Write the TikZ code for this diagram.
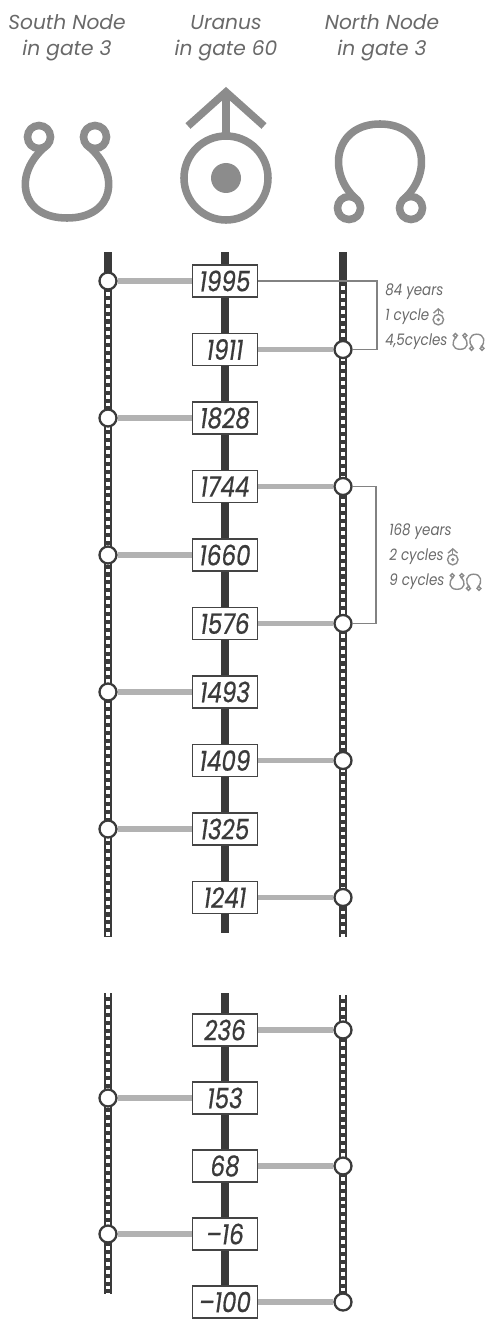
\documentclass[tikz,border=0pt]{standalone}
\usepackage{fontspec}
\setmainfont{Poppins}
\newfontfamily\yearfont{Poppins}[FakeStretch=0.82,FakeBold=0.6]
\newfontfamily\notefont{Poppins}[FakeStretch=0.85]
\usetikzlibrary{positioning,calc}

\definecolor{railgray}{RGB}{58,58,58}
\definecolor{linkgray}{RGB}{178,178,178}
\definecolor{glyphgray}{RGB}{140,140,140}
\definecolor{headgray}{RGB}{105,105,105}
\definecolor{boxgray}{RGB}{68,68,68}
\definecolor{bracketgray}{RGB}{130,130,130}

\tikzset{
  head/.style={align=center, text=headgray, font=\fontsize{11.5}{15}\selectfont\itshape},
  glyph/.style={draw=glyphgray, fill=glyphgray, line width=4.3pt},
  tinyglyph/.style={draw=glyphgray, fill=glyphgray, line width=0.8pt},
  rail/.style={line width=4.8pt, draw=railgray},
  raildots/.style={line width=2.3pt, draw=white, dash pattern=on 2.2pt off 2.3pt},
  yearbox/.style={draw=boxgray, line width=1.1pt, fill=white, text=railgray,
    minimum width=1.3cm, minimum height=0.64cm, inner sep=0pt,
    font=\yearfont\fontsize{16}{16}\selectfont\itshape},
  hit/.style={circle, draw=railgray, line width=1.3pt, fill=white,
    minimum size=0.34cm, inner sep=0pt},
  link/.style={line width=3.4pt, draw=linkgray},
  bracket/.style={line width=0.7pt, draw=bracketgray},
  note/.style={anchor=west, inner sep=0pt, text=headgray,
    font=\notefont\fontsize{9}{9}\selectfont\itshape},
  % astrological signs, drawn about their centre
  southnode/.pic={
    \draw[fill=none] (-28,-38) circle[radius=11.5];
    \draw[fill=none] (28,-38) circle[radius=11.5];
    \draw[fill=none] (-21,-29) .. controls (-54,-2) and (-48,43) .. (0,43)
      .. controls (48,43) and (54,-2) .. (21,-29);
  },
  northnode/.pic={
    \draw[fill=none] (-31,38) circle[radius=11.5];
    \draw[fill=none] (31,38) circle[radius=11.5];
    \draw[fill=none] (-24,29) .. controls (-54,2) and (-45,-46) .. (0,-46)
      .. controls (45,-46) and (54,2) .. (24,29);
  },
  uranussym/.pic={
    \draw[fill=none] (0,0) circle[radius=42];
    \fill (0,0) circle[radius=15];
    \draw (0,-42) -- (0,-85);
    \draw[fill=none, line join=miter] (-38,-52) -- (0,-86) -- (38,-52);
  }
}

\begin{document}
\begin{tikzpicture}[x=0.02cm, y=-0.02cm]
\useasboundingbox (0,0) rectangle (497,1321);

% headings and signs
\node[head] (hsouth) at (67,38) {South Node\\in gate 3};
\node[head] (huranus) at (226,38) {Uranus\\in gate 60};
\node[head] (hnorth) at (382,38) {North Node\\in gate 3};
\pic[glyph] at (67,175) {southnode};
\pic[glyph] at (226,178) {uranussym};
\pic[glyph] at (380,170) {northnode};

% rails, upper part
\coordinate (sTop) at (108,252);
\coordinate (sDot) at (108,284);
\coordinate (sEnd) at (108,937);
\coordinate (uTop) at (225,252);
\coordinate (uEnd) at (225,933);
\coordinate (nTop) at (343,252);
\coordinate (nDot) at (343,286);
\coordinate (nEnd) at (343,937);
\draw[rail] (uTop) -- (uEnd);
\draw[rail] (sTop) -- (sEnd);
\draw[raildots] (sDot) -- (sEnd);
\draw[rail] (nTop) -- (nEnd);
\draw[raildots] (nDot) -- (nEnd);

% rails, lower part
\coordinate (sTopB) at (108,993);
\coordinate (sEndB) at (108,1294);
\coordinate (uTopB) at (225,993);
\coordinate (uEndB) at (225,1302);
\coordinate (nTopB) at (343,995);
\coordinate (nEndB) at (343,1302);
\draw[rail] (uTopB) -- (uEndB);
\draw[rail] (sTopB) -- (sEndB);
\draw[raildots] (sTopB) -- (sEndB);
\draw[rail] (nTopB) -- (nEndB);
\draw[raildots] (nTopB) -- (nEndB);

% Uranus returns, upper part
\foreach \yr/\cx [count=\i from 0] in {1995/108,1911/343,1828/108,1744/343,1660/108,
    1576/343,1493/108,1409/343,1325/108,1241/343}{
  \node[yearbox] (y\yr) at (225,{281+68.5*\i}) {\yr};
  \node[hit] (c\yr) at (\cx,{281+68.5*\i}) {};
  \draw[link] (c\yr) -- (y\yr);
}

% Uranus returns, lower part
\foreach \nm/\yr/\cx [count=\i from 0] in {236/236/343,153/153/108,68/68/343,
    m16/–16/108,m100/–100/343}{
  \node[yearbox] (y\nm) at (225,{1030+68*\i}) {\yr};
  \node[hit] (c\nm) at (\cx,{1030+68*\i}) {};
  \draw[link] (c\nm) -- (y\nm);
}

% cycle brackets
\coordinate (k84) at (377,281);
\coordinate (k168) at (376,486.5);
\draw[bracket] (y1995.east) -- (k84) |- (c1911.east);
\draw[bracket] (c1744.east) -- (k168) |- (c1576.east);

\node[note] (t84) at (385,292) {84 years};
\node[note] (t1c) at (385,317) {1 cycle};
\pic[tinyglyph, scale=0.125] at ([xshift=5pt,yshift=-1.5pt]t1c.east) {uranussym};
\node[note] (t45) at (385,342) {4,5cycles};
\pic[tinyglyph, scale=0.17] at ([xshift=7pt]t45.east) {southnode};
\pic[tinyglyph, scale=0.17] at ([xshift=16.5pt]t45.east) {northnode};

\node[note] (t168) at (389,532) {168 years};
\node[note] (t2c) at (389,557) {2 cycles};
\pic[tinyglyph, scale=0.125] at ([xshift=5pt,yshift=-1.5pt]t2c.east) {uranussym};
\node[note] (t9c) at (389,582) {9 cycles};
\pic[tinyglyph, scale=0.17] at ([xshift=7pt]t9c.east) {southnode};
\pic[tinyglyph, scale=0.17] at ([xshift=16.5pt]t9c.east) {northnode};
\end{tikzpicture}
\end{document}
